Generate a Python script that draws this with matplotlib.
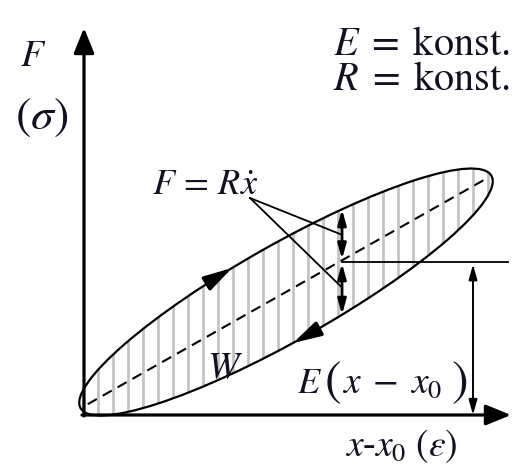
import numpy as np
import matplotlib
matplotlib.use('Agg')
import matplotlib.pyplot as plt
from matplotlib.patches import Ellipse

plt.rcParams['mathtext.fontset'] = 'stix'
plt.rcParams['font.family'] = ['Liberation Serif', 'DejaVu Serif']

# --- diagram values (1 unit = 1 px, origin at the axes crossing) ---
loop_center = [202, 123]
loop_axes = [236, 48]          # semi-major, semi-minor
loop_angle = 29.5              # degrees
axis_ends = [427, 387]         # x tip, y tip
strain_x = 258                 # where the viscous / elastic split is drawn
elastic_x = 389                # E(x - x0) dimension arrow
line_end_x = 424
direction_x = [148, 209]       # arrows along the loop (upper, lower)
leader_origin = [166, 217]

# text, x, y, size, ha, va
labels = [
    (r'$F$', -51, 358, 27, 'center', 'center'),
    (r'$(\sigma)$', -42, 297, 33, 'center', 'center'),
    (r'$E\;=\;\mathrm{konst.}$', 426, 360, 29, 'right', 'baseline'),
    (r'$R\;=\;\mathrm{konst.}$', 426, 325, 29, 'right', 'baseline'),
    (r'$F\,=\,R\dot{x}$', 68, 220, 26, 'left', 'baseline'),
    (r'$W$', 123, 37, 27, 'left', 'baseline'),
    (r'$E$', 213, 22, 26, 'left', 'baseline'),
    (r'$($', 249, 32, 36, 'center', 'center'),
    (r'$x\;-\;x_0$', 258, 22, 27, 'left', 'baseline'),
    (r'$)$', 375, 32, 36, 'center', 'center'),
    (r'$x$-$x_0\ (\varepsilon)$', 261, -41, 27, 'left', 'baseline'),
]

cx, cy = loop_center
a, b = loop_axes
th = np.radians(loop_angle)
c, s = np.cos(th), np.sin(th)


def chord(x):
    # lower / upper y of the loop at a given x
    u = x - cx
    A = s**2 / a**2 + c**2 / b**2
    B = u * c * s * (1 / a**2 - 1 / b**2)
    C = u**2 * (c**2 / a**2 + s**2 / b**2) - 1
    r = np.sqrt(B**2 - A * C)
    return cy + (-B - r) / A, cy + (-B + r) / A


def tangent_cw(x, y):
    u, v = x - cx, y - cy
    p = u * c + v * s
    q = -u * s + v * c
    gx = 2 * p * c / a**2 - 2 * q * s / b**2
    gy = 2 * p * s / a**2 + 2 * q * c / b**2
    d = np.array([gy, -gx])
    return d / np.hypot(*d)


fig = plt.figure(figsize=(5.12, 4.65), dpi=100)
ax = fig.add_axes([0, 0, 1, 1])
ax.set_xlim(-84, 428)
ax.set_ylim(-50, 415)
ax.set_aspect('equal')
ax.axis('off')

# hatching inside the loop
loop = Ellipse((cx, cy), 2 * a, 2 * b, angle=loop_angle, fill=False,
               edgecolor='black', lw=1.6, zorder=4)
ax.add_patch(loop)
hatch_x = np.arange(-1, cx + a, 15)
hl = ax.vlines(hatch_x, -5, cy + a, colors='#c4c4c4', lw=2.0, zorder=1)
hl.set_clip_path(loop)

# dashed elastic line (major axis)
k = 0.965
ax.plot([cx - k * a * c, cx + k * a * c], [cy - k * a * s, cy + k * a * s],
        color='black', lw=1.5, ls=(0, (5, 3.2)), zorder=3)

# axes
ax_arrow = dict(arrowstyle='-|>,head_length=1.1,head_width=0.45', mutation_scale=14,
                lw=2.3, color='black', shrinkA=0, shrinkB=0)
ax.annotate('', xy=(axis_ends[0], 0), xytext=(-2, 0), arrowprops=ax_arrow, zorder=5)
ax.annotate('', xy=(0, axis_ends[1]), xytext=(0, -1), arrowprops=ax_arrow, zorder=5)

# direction arrows on the loop
for x, y in [(direction_x[0], chord(direction_x[0])[1]),
             (direction_x[1], chord(direction_x[1])[0])]:
    d = tangent_cw(x, y)
    ax.annotate('', xy=(x, y), xytext=(x - 22 * d[0], y - 22 * d[1]),
                arrowprops=dict(arrowstyle='-|>,head_length=1.4,head_width=0.38',
                                mutation_scale=12, lw=2.4, color='black',
                                shrinkA=0, shrinkB=0), zorder=6)

# split at strain_x
s_lo, s_hi = chord(strain_x)
s_mid = cy + (strain_x - cx) * np.tan(th)
dim = dict(arrowstyle='<|-|>,head_length=0.9,head_width=0.25', mutation_scale=10,
           lw=2.0, color='black', shrinkA=0, shrinkB=0)
ax.annotate('', xy=(strain_x, s_hi), xytext=(strain_x, s_mid + 1), arrowprops=dim, zorder=6)
ax.annotate('', xy=(strain_x, s_lo), xytext=(strain_x, s_mid - 3), arrowprops=dim, zorder=6)
ax.plot([strain_x, line_end_x], [s_mid - 2, s_mid - 2], color='black', lw=1.3, zorder=5)

dim2 = dict(dim, lw=1.4)
ax.annotate('', xy=(elastic_x, s_mid - 4), xytext=(elastic_x, 0), arrowprops=dim2, zorder=6)

# leader lines to F = R xdot
for yt in [(s_hi + s_mid) / 2, (s_lo + s_mid) / 2]:
    ax.plot([leader_origin[0], strain_x], [leader_origin[1], yt], color='black',
            lw=1.3, zorder=5)

# text
tc = '#111122'
for txt, x, y, size, ha, va in labels:
    ax.text(x, y, txt, fontsize=size, ha=ha, va=va, color=tc, zorder=7)

fig.savefig('out.png', dpi=100)
